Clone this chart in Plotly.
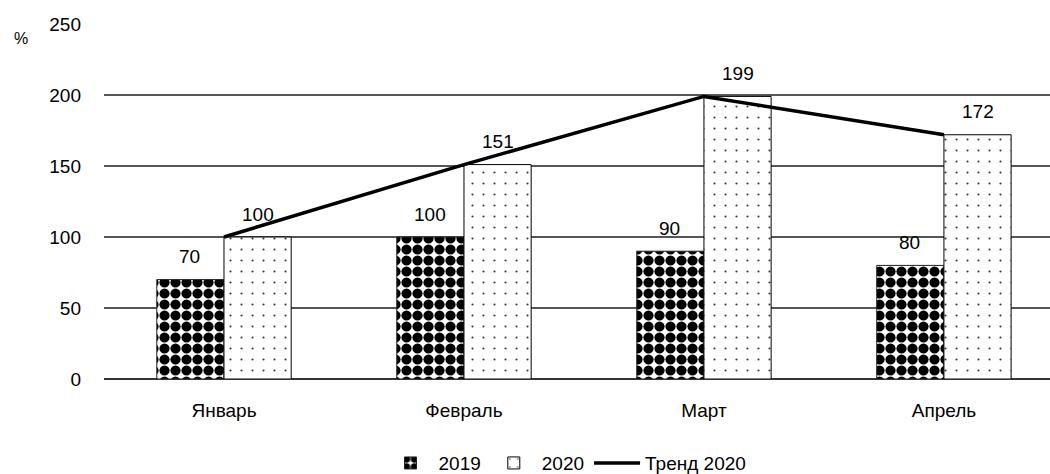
import plotly.graph_objects as go

months = ["Январь", "Февраль", "Март", "Апрель"]
v2019 = [70, 100, 90, 80]
v2020 = [100, 151, 199, 172]
trend2020 = [100, 151, 199, 172]
yticks = [0, 50, 100, 150, 200, 250]

FONT = "Liberation Sans, Arial, sans-serif"
FS = 19
BAR_OFFSET_PX = 34  # half of one bar width in pixels

fig = go.Figure()
fig.add_trace(go.Bar(
    x=months, y=v2019, name="2019",
    marker=dict(color="white", line=dict(color="#222", width=1),
                pattern=dict(shape=".", fgcolor="black", bgcolor="white", fgopacity=1,
                             size=11, solidity=0.68, fillmode="overlay")),
))
fig.add_trace(go.Bar(
    x=months, y=v2020, name="2020",
    marker=dict(color="white", line=dict(color="black", width=1),
                pattern=dict(shape=".", fgcolor="#333", bgcolor="white", fgopacity=1,
                             size=11, solidity=0.03, fillmode="overlay")),
))
fig.add_trace(go.Scatter(
    x=months, y=trend2020, name="Тренд 2020", mode="lines",
    line=dict(color="black", width=3.5),
))

annotations = []
for m, v in zip(months, v2019):
    annotations.append(dict(x=m, y=v, xref="x", yref="y", text=str(v), showarrow=False,
                            xshift=-BAR_OFFSET_PX, yshift=23, yanchor="middle",
                            font=dict(size=FS, color="black")))
for m, v in zip(months, v2020):
    annotations.append(dict(x=m, y=v, xref="x", yref="y", text=str(v), showarrow=False,
                            xshift=BAR_OFFSET_PX, yshift=23, yanchor="middle",
                            font=dict(size=FS, color="black")))
annotations.append(dict(text="%", xref="paper", yref="paper", x=-0.097, y=0.96,
                        xanchor="left", yanchor="middle", showarrow=False,
                        font=dict(size=16)))

fig.update_layout(
    width=1050, height=474,
    margin=dict(l=104, r=0, t=24, b=95, autoexpand=False),
    paper_bgcolor="white", plot_bgcolor="white",
    font=dict(family=FONT, size=FS, color="black"),
    barmode="group", bargap=0.44, bargroupgap=0,
    showlegend=True,
    legend=dict(orientation="h", x=0.54, xanchor="center", xref="container",
                y=0.023, yanchor="middle", yref="container",
                font=dict(size=FS), itemwidth=46, tracegroupgap=0),
    xaxis=dict(range=[-0.5, 3.442], showgrid=False, showline=False, ticks="",
               ticklabelstandoff=18, tickfont=dict(size=FS)),
    yaxis=dict(range=[0, 250], tickvals=yticks, showgrid=True, gridcolor="#555",
               gridwidth=1.5, zeroline=True, zerolinecolor="#333", zerolinewidth=1.5,
               showline=False, ticks="", ticklabelstandoff=22,
               tickfont=dict(size=FS)),
    annotations=annotations,
)

fig.write_html("out.html")
